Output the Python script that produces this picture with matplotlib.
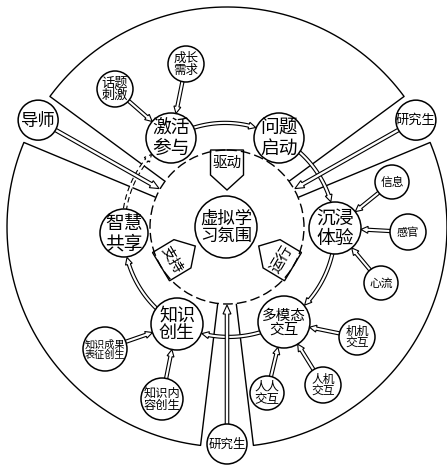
import numpy as np
import matplotlib
matplotlib.use("Agg")
import matplotlib.pyplot as plt
from matplotlib.patches import Circle, Polygon

plt.rcParams['font.family'] = ['Noto Sans CJK SC', 'DejaVu Sans']
plt.rcParams['font.weight'] = 'light'

# --- labels ---
hub_label = "虚拟学\n习氛围"
ring_labels = ["激活\n参与", "问题\n启动", "沉浸\n体验", "多模态\n交互", "知识\n创生", "智慧\n共享"]
tag_labels = ["驱动", "支持", "运行"]
actor_labels = ["导师", "研究生", "研究生"]
sat_labels = ["话题\n刺激", "成长\n需求", "信息", "感官", "心流",
              "机机\n交互", "人机\n交互", "人人\n交互", "知识成果\n表征创生", "知识内\n容创生"]
sat_targets = [0, 0, 2, 2, 2, 3, 3, 3, 4, 4]

# --- layout (pixels, y down) ---
CX, CY = 227, 227
R_OUT, R_IN, R_DASH, R_HUB = 220, 78, 77, 31
ring_xy = [(171, 138), (279, 138), (335, 228), (284, 322), (177, 324), (124, 233)]
ring_rad = [25, 25, 26, 26, 26, 24]
ring_fs = [13.5, 13.5, 13.5, 10.5, 13, 13.5]
sat_xy = [(115, 89), (186, 64), (392, 182), (408, 232), (381, 283),
          (357, 337), (323, 385), (267, 393), (105, 349), (162, 399)]
sat_rad = [18, 18, 17, 18, 17, 18, 18, 17, 22, 21]
sat_fs = [9.5, 9, 8.5, 8, 8.5, 8.5, 8.5, 9, 7.3, 8.8]
actor_ang = [150.5, 29.5, -90]
actor_rad = [20, 20, 20]
actor_fs = [12.5, 9.5, 9]
tag_ang = [90, 211, 329]
tag_rot = [0, -59, 59]

fig = plt.figure(figsize=(4.47, 4.66), dpi=100)
ax = fig.add_axes([0, 0, 1, 1])
ax.set_xlim(0, 447)
ax.set_ylim(466, 0)
ax.axis('off')


def pol(r, deg):
    a = np.radians(deg)
    return np.array([CX + r * np.cos(a), CY - r * np.sin(a)])


def hollow_arrow(pts, w=3.2, hw=7.5, hl=8.0, ls='-', z=4):
    pts = np.asarray(pts, float)
    seg = np.hypot(*np.diff(pts, axis=0).T)
    s = np.concatenate([[0], np.cumsum(seg)])
    sb = s[-1] - hl
    k = int(np.searchsorted(s, sb))
    t = (sb - s[k - 1]) / (s[k] - s[k - 1])
    base = pts[k - 1] + t * (pts[k] - pts[k - 1])
    shaft = np.vstack([pts[:k], base])
    tip = pts[-1]
    tan = np.gradient(shaft, axis=0)
    tan /= np.hypot(tan[:, 0], tan[:, 1])[:, None]
    nrm = np.column_stack([-tan[:, 1], tan[:, 0]])
    hd = (tip - base) / np.hypot(*(tip - base))
    hn = np.array([-hd[1], hd[0]])
    nrm[-1] = hn
    left = shaft + nrm * w / 2
    right = shaft - nrm * w / 2
    poly = np.vstack([left, base + hn * hw / 2, tip, base - hn * hw / 2, right[::-1]])
    ax.add_patch(Polygon(poly, closed=True, fc='white', ec='black', lw=0.8, ls=ls, zorder=z))


def node(xy, r, text, fs, z=5):
    ax.add_patch(Circle(xy, r, fc='white', ec='black', lw=1.1, zorder=z))
    ax.text(xy[0], xy[1] + 0.5, text, fontsize=fs, ha='center', va='center',
            linespacing=0.95, zorder=z + 0.5)


# outer sectors
half_gap = 6.9
gaps = sorted(actor_ang)
for i in range(3):
    a0 = gaps[i] + half_gap
    a1 = gaps[(i + 1) % 3] - half_gap
    if a1 < a0:
        a1 += 360
    arc = np.array([pol(R_OUT, a) for a in np.linspace(a0, a1, 200)])
    pts = np.vstack([pol(R_IN, a0), arc, pol(R_IN, a1)])
    ax.plot(pts[:, 0], pts[:, 1], color='black', lw=1.0, zorder=1)

# dashed circle and hub
ax.add_patch(Circle((CX, CY), R_DASH, fill=False, ec='black', lw=1.0,
                    ls=(0, (7, 3)), zorder=1))
node((CX - 1, CY), R_HUB, hub_label, 12.5)

# tags
for lab, a, rot in zip(tag_labels, tag_ang, tag_rot):
    d = np.array([np.cos(np.radians(a)), -np.sin(np.radians(a))])
    p = np.array([np.sin(np.radians(a)), np.cos(np.radians(a))])
    c = np.array([CX, CY])
    local = [(0, 16.5), (25, 16.5), (40, 0), (25, -16.5), (0, -16.5)]
    poly = [c + (R_DASH - s) * d + t * p for s, t in local]
    ax.add_patch(Polygon(poly, closed=True, fill=False, ec='black', lw=1.0, zorder=2))
    tc = c + (R_DASH - 12.5) * d
    ax.text(tc[0], tc[1], lab, fontsize=10.5, rotation=rot, ha='center', va='center',
            rotation_mode='anchor', zorder=3)

# ring arcs
ang = [np.degrees(np.arctan2(-(y - CY), x - CX)) for x, y in ring_xy]
dist = [np.hypot(x - CX, y - CY) for x, y in ring_xy]
for i in range(6):
    j = (i + 1) % 6
    a1, a2 = ang[i], ang[j]
    while a2 > a1:
        a2 -= 360
    tt = np.linspace(0, 1, 600)
    aa = a1 + (a2 - a1) * tt
    rr = dist[i] + (dist[j] - dist[i]) * tt
    pts = np.column_stack([CX + rr * np.cos(np.radians(aa)), CY - rr * np.sin(np.radians(aa))])
    d1 = np.hypot(pts[:, 0] - ring_xy[i][0], pts[:, 1] - ring_xy[i][1])
    d2 = np.hypot(pts[:, 0] - ring_xy[j][0], pts[:, 1] - ring_xy[j][1])
    keep = (d1 > ring_rad[i] - 2) & (d2 > ring_rad[j] + 0.5)
    hollow_arrow(pts[keep], w=3.2, hw=7, hl=7, ls=(0, (5, 3)) if i == 5 else '-', z=2)

# ring nodes
for xy, r, lab, fs in zip(ring_xy, ring_rad, ring_labels, ring_fs):
    node(xy, r, lab, fs, z=3)

# satellites
for xy, r, lab, fs, tgt in zip(sat_xy, sat_rad, sat_labels, sat_fs, sat_targets):
    s = np.array(xy, float)
    e = np.array(ring_xy[tgt], float)
    u = (e - s) / np.hypot(*(e - s))
    hollow_arrow([s + u * (r - 2), e - u * ring_rad[tgt]], w=3.2, hw=7, hl=7, z=4)
    node(xy, r, lab, fs, z=5)

# actors
for a, r, lab, fs in zip(actor_ang, actor_rad, actor_labels, actor_fs):
    xy = pol(217, a)
    tip = pol(R_IN, a)
    u = (tip - xy) / np.hypot(*(tip - xy))
    hollow_arrow([xy + u * (r - 2), tip], w=3.5, hw=8, hl=9, z=4)
    node(xy, r, lab, fs, z=5)

fig.savefig("out.png", dpi=100)
